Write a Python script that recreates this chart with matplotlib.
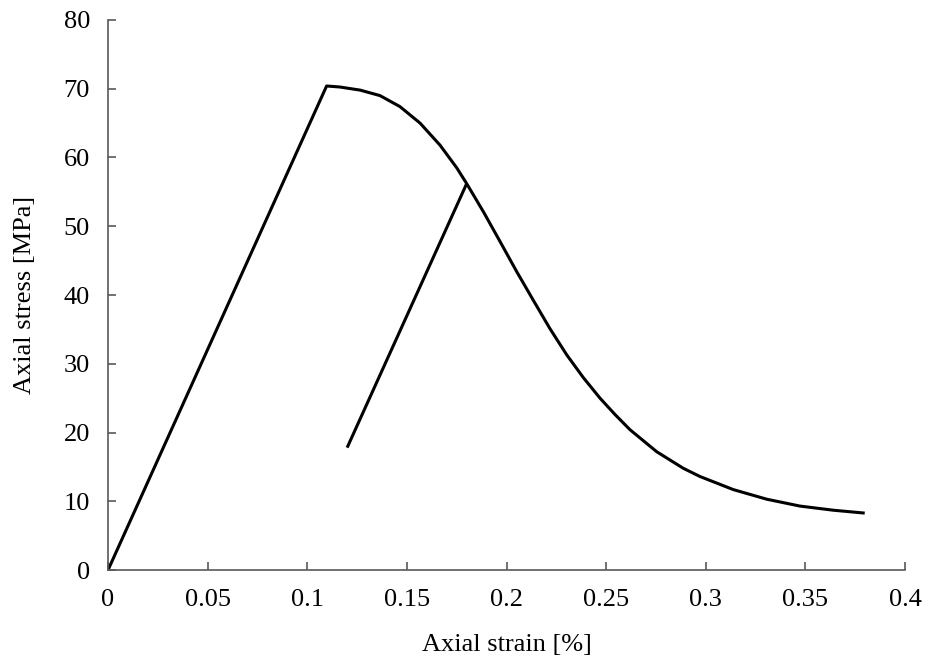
import numpy as np
import matplotlib
matplotlib.use("Agg")
import matplotlib.pyplot as plt
from matplotlib.ticker import FuncFormatter

# main stress-strain curve
strain_main = [0.0, 0.1097, 0.1164, 0.1265, 0.1365, 0.1465, 0.1566, 0.1666,
               0.175, 0.18, 0.1884, 0.1967, 0.2051, 0.2135, 0.2218, 0.2302,
               0.2385, 0.2469, 0.2545, 0.262, 0.2754, 0.2887, 0.2971, 0.3138,
               0.3306, 0.3473, 0.364, 0.379]
stress_main = [0.0, 70.4, 70.25, 69.8, 69.0, 67.4, 65.0, 61.8,
               58.5, 56.2, 52.1, 47.8, 43.4, 39.2, 35.1, 31.3,
               28.0, 25.0, 22.6, 20.4, 17.2, 14.8, 13.6, 11.7,
               10.3, 9.3, 8.7, 8.3]

# unloading branch
strain_unload = [0.12, 0.18]
stress_unload = [17.8, 56.2]

plt.rcParams['font.family'] = ['Liberation Serif', 'DejaVu Serif']

fig = plt.figure(figsize=(9.29, 6.66), dpi=100)
ax = fig.add_axes([0.1163, 0.1441, 0.8579, 0.8259])

ax.plot(strain_main, stress_main, color='black', lw=2.2, solid_joinstyle='round')
ax.plot(strain_unload, stress_unload, color='black', lw=2.2, solid_capstyle='butt')

ax.set_xlim(0, 0.4)
ax.set_ylim(0, 80)
ax.set_xticks(np.arange(0, 0.41, 0.05))
ax.set_yticks(np.arange(0, 81, 10))
ax.xaxis.set_major_formatter(FuncFormatter(lambda v, p: '%g' % round(v, 2)))

for s in ['top', 'right']:
    ax.spines[s].set_visible(False)
for s in ['left', 'bottom']:
    ax.spines[s].set_color('#595959')
    ax.spines[s].set_linewidth(1.2)
ax.tick_params(direction='in', length=6, width=1.2, color='#595959',
               labelsize=19)
ax.tick_params(axis='x', pad=13.5)
ax.tick_params(axis='y', pad=13)

ax.set_xlabel('Axial strain [%]', fontsize=19, labelpad=17)
ax.set_ylabel('Axial stress [MPa]', fontsize=19, labelpad=20)

fig.savefig('out.png', dpi=100)
